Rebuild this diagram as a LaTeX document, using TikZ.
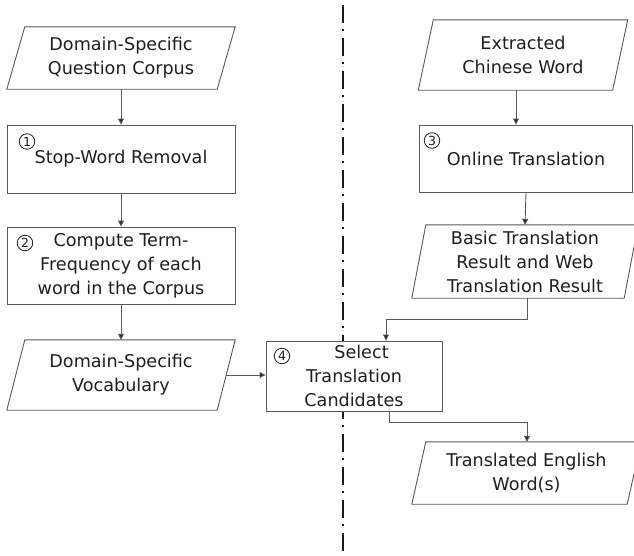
\documentclass[tikz,border=0pt]{standalone}
\usepackage{fontspec}
\setmainfont{DejaVu Sans}
\usetikzlibrary{arrows.meta,calc}
\tikzset{
  txt/.style={align=center, font=\fontsize{17.6}{24}\selectfont, text=black!88, inner sep=0pt},
  boxnode/.style={draw=black!65, line width=0.9pt, fill=white, txt},
  ionode/.style={txt},
  iolines/.style={draw=black!65, line width=0.9pt, fill=white},
  num/.style={circle, draw=black!88, line width=0.8pt, minimum size=15.5pt, inner sep=0pt,
     font=\fontsize{12.5}{12.5}\selectfont, text=black!88},
  arr/.style={draw=black!65, line width=0.9pt, -{Triangle[length=6pt,width=6pt,fill=black!85]}},
  sep/.style={draw=black!90, line width=1.6pt, dash pattern=on 18pt off 6pt on 2pt off 7pt}
}
% \iobox{name}{x}{y}{width}{height}{slant}{text}
\newcommand{\iobox}[7]{%
  \node[ionode, minimum width=#4pt, minimum height=#5pt] (#1) at (#2,#3) {};
  \draw[iolines] ([xshift=#6pt]#1.north west) -- ([xshift=#6pt]#1.north east)
     -- ([xshift=-#6pt]#1.south east) -- ([xshift=-#6pt]#1.south west) -- cycle;
  \node[ionode] at (#1.center) {#7};
}
\begin{document}
\begin{tikzpicture}[x=1pt,y=-1pt]
\useasboundingbox (0,0) rectangle (634,555);

% separator
\draw[sep] (343,5) coordinate (s1) -- (343,560) coordinate (s2);

% left column
\iobox{p1}{121}{58}{210}{62}{9}{Domain-Specific\\Question Corpus}
\node[boxnode, minimum width=228pt, minimum height=68pt] (b1) at (121,159) {Stop-Word Removal};
\node[num] (n1) at (27,141.5) {1};
\node[boxnode, minimum width=228pt, minimum height=77pt] (b2) at (121,265.5)
  {Compute Term-\\Frequency of each\\word in the Corpus};
\node[num] (n2) at (25,243) {2};
\iobox{p2}{121}{375}{210}{70}{9}{Domain-Specific\\Vocabulary}

% right column
\iobox{p3}{523}{55}{194}{70}{7.5}{Extracted\\Chinese Word}
\node[boxnode, minimum width=213pt, minimum height=67pt] (b3) at (526,158.5) {Online Translation};
\node[num] (n3) at (432,140.5) {3};
\iobox{p4}{525}{261.5}{212}{73}{7}{Basic Translation\\Result and Web\\Translation Result}
\node[boxnode, minimum width=176pt, minimum height=70pt] (b4) at (354,376)
  {\hspace*{15pt}Select\\Translation\\Candidates};
\node[num] (n4) at (282,356) {4};
\iobox{p5}{526.5}{473}{215}{62}{7}{Translated English\\Word(s)}

% connectors
\draw[arr] (p1.south) -- (b1.north);
\draw[arr] (b1.south) -- (b2.north);
\draw[arr] (b2.south) -- (p2.north);
\draw[arr] (p2.east) -- (b4.west |- p2.east);
\draw[arr] ([xshift=-7pt]p3.south) -- ([xshift=-10pt]b3.north);
\draw[arr] (b3.south) -- (p4.north);
\draw[arr] ([xshift=2pt]p4.south) |- ++(0,21) -| ([xshift=32pt]b4.north);
\draw[arr] ([xshift=35pt]b4.south) |- ++(0,11) -| ([xshift=0.5pt]p5.north);
\end{tikzpicture}
\end{document}
